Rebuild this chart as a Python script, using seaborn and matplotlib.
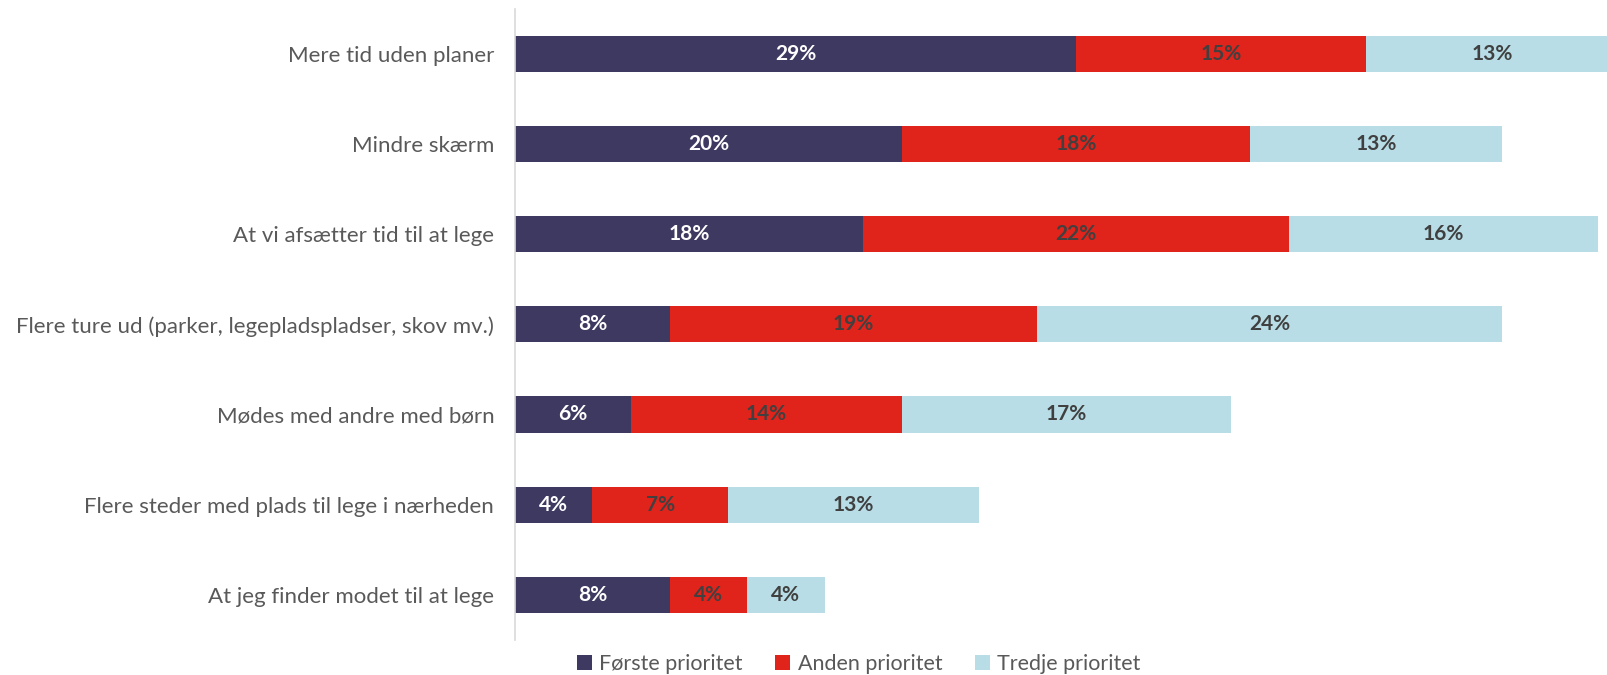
import matplotlib
matplotlib.use("Agg")
import matplotlib.pyplot as plt
from matplotlib.patches import Patch
import numpy as np
import pandas as pd
import seaborn as sns

# Data
categories = [
    "Mere tid uden planer",
    "Mindre skærm",
    "At vi afsætter tid til at lege",
    "Flere ture ud (parker, legepladspladser, skov mv.)",
    "Mødes med andre med børn",
    "Flere steder med plads til lege i nærheden",
    "At jeg finder modet til at lege",
]
series_names = ["Første prioritet", "Anden prioritet", "Tredje prioritet"]
forste = [29, 20, 18, 8, 6, 4, 8]
anden = [15, 18, 22, 19, 14, 7, 4]
tredje = [13, 13, 16, 24, 17, 13, 4]

colors = ["#3E3960", "#E0231B", "#B8DDE6"]
label_colors = ["white", "#404040", "#404040"]

sns.set_theme(style="white")
plt.rcParams["font.family"] = ["Lato", "DejaVu Sans"]

df = pd.DataFrame({"kategori": categories, "f": forste, "a": anden, "t": tredje})
df["c1"] = df["f"]
df["c2"] = df["f"] + df["a"]
df["c3"] = df["c2"] + df["t"]

fig = plt.figure(figsize=(16.08, 6.75), dpi=100)
ax = fig.add_axes([0.3203, 0.052, 0.6797, 0.935])

# stacked bars: draw cumulative totals from the back
for col, color in zip(["c3", "c2", "c1"], colors[::-1]):
    sns.barplot(data=df, x=col, y="kategori", orient="y", color=color,
                width=0.4, linewidth=0, saturation=1, ax=ax)

# segment labels
segments = [df["f"].values, df["a"].values, df["t"].values]
lefts = [np.zeros(len(df)), df["c1"].values, df["c2"].values]
for seg, left, tc in zip(segments, lefts, label_colors):
    for i, (v, l) in enumerate(zip(seg, left)):
        ax.text(l + v / 2, i, f"{v}%", ha="center", va="center",
                color=tc, fontsize=15, fontweight="bold")

ax.set_xlim(0, 56.5)
ax.set_ylim(6.5, -0.5)
ax.set_xlabel("")
ax.set_ylabel("")
ax.set_xticks([])
ax.tick_params(axis="y", length=0, pad=15, labelsize=16, labelcolor="#595959")
for s in ["top", "right", "bottom"]:
    ax.spines[s].set_visible(False)
ax.spines["left"].set_color("#D9D9D9")
ax.spines["left"].set_linewidth(1.2)

handles = [Patch(facecolor=c, edgecolor="none") for c in colors]
fig.legend(handles, series_names, loc="center", bbox_to_anchor=(0.534, 0.016),
           ncol=3, frameon=False, fontsize=15.5, handlelength=0.7, handleheight=0.7,
           handletextpad=0.35, columnspacing=1.5, labelcolor="#595959")

fig.savefig("out.png", dpi=100)
